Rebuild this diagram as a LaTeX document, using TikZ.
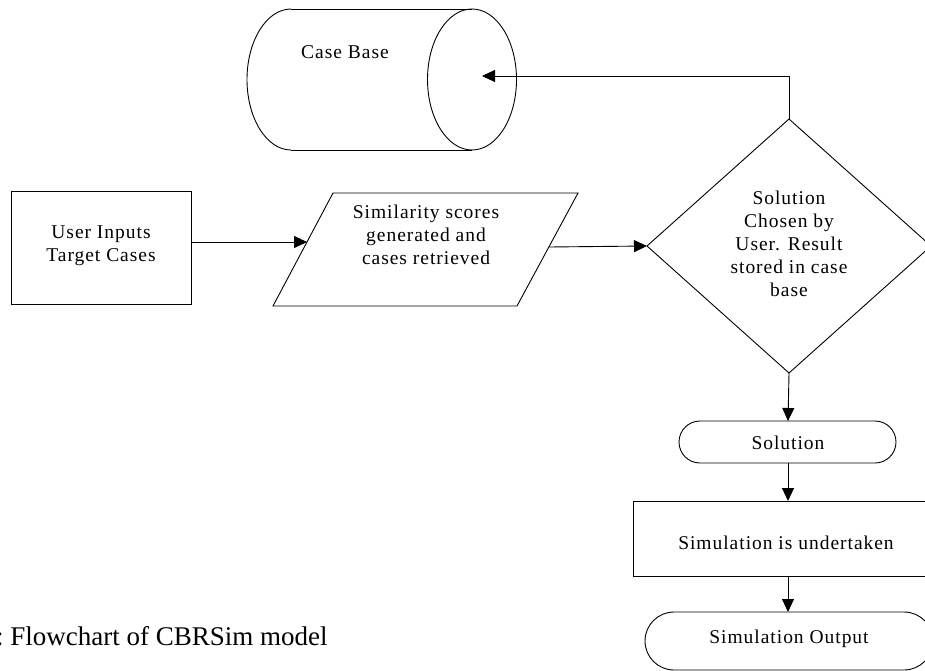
\documentclass[tikz,border=0pt]{standalone}
\usepackage{fontspec}
\setmainfont{Liberation Serif}
\newfontfamily\dfont[LetterSpace=5]{Liberation Serif}
\usetikzlibrary{arrows.meta}
\begin{document}
\begin{tikzpicture}[x=1pt,y=-1pt,
  line width=0.9pt,
  lbl/.style={font=\dfont\fontsize{19.5}{23}\selectfont, align=center, inner sep=0pt},
  arr/.style={-{Triangle[length=13pt,width=12pt]}},
  box/.style={draw, rectangle, inner sep=0pt}]
\useasboundingbox (0,0) rectangle (925,671);

% Case Base cylinder
\draw (291,9) -- (472,9);
\draw (291,150) -- (472,150);
\draw (291,9) arc[start angle=-90,end angle=-270,x radius=44,y radius=70.5];
\draw (472,79.5) ellipse[x radius=44.5, y radius=70.5];
\node[lbl] (cbtext) at (345,52) {Case Base};
\coordinate (cbin) at (482,76);

% User inputs
\node[box, minimum width=180pt, minimum height=113pt] (user) at (101,247.5) {};
\node[lbl] (usertext) at (101,246) {User Inputs\\Target Cases};

% Parallelogram
\coordinate (p1) at (333,193);
\coordinate (p2) at (578,193);
\coordinate (p3) at (517,306);
\coordinate (p4) at (273,306);
\draw (p1) -- (p2) -- (p3) -- (p4) -- cycle;
\node[lbl] (simtext) at (426,235) {Similarity scores\\generated and\\cases retrieved};
\coordinate (pin) at (307,242);
\coordinate (pout) at (549,247);

% Diamond
\coordinate (dt) at (789,119);
\coordinate (dl) at (647,246);
\coordinate (db) at (789,373);
\coordinate (dr) at (931,246);
\draw (dt) -- (dr) -- (db) -- (dl) -- cycle;
\node[lbl] (dtext) at (789,244) {Solution\\Chosen by\\User. Result\\stored in case\\base};

% Solution terminator
\draw[rounded corners=21pt] (679,421) rectangle (896,463);
\node[lbl] (soltext) at (788,443) {Solution};
\coordinate (solt) at (788,421);
\coordinate (solb) at (788,463);

% Simulation rect
\draw (633,501) rectangle (937,576);
\node[lbl] (simrun) at (786,543) {Simulation is undertaken};
\coordinate (rt) at (788,501);
\coordinate (rb) at (788,576);

% Simulation output
\draw[rounded corners=29pt] (645,612) rectangle (933,670);
\node[lbl] (outtext) at (789,639) {Simulation Output};
\coordinate (ot) at (788,612);

% connectors
\draw[arr] (user.east |- pin) -- (pin);
\draw[arr] (pout) -- (dl);
\draw[arr] (dt) |- (cbin);
\draw[arr] (db) -- (solt);
\draw[arr] (solb) -- (rt);
\draw[arr] (rb) -- (ot);

% caption
\node[anchor=base west, inner sep=0pt, font=\fontsize{27}{30}\selectfont] (cap) at (10,645) {\llap{:\ }Flowchart of CBRSim model};
\end{tikzpicture}
\end{document}
